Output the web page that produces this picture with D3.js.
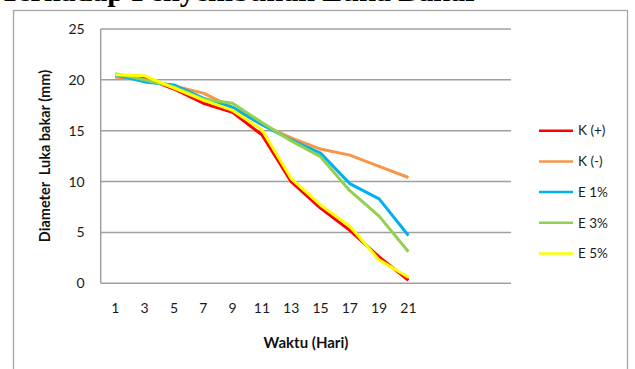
<!DOCTYPE html>
<html>
<head>
<meta charset="utf-8">
<script src="https://cdn.jsdelivr.net/npm/d3@7"></script>
<style>
  html, body { margin: 0; padding: 0; background: #fff; }
  svg { display: block; }
</style>
</head>
<body>
<svg id="chart" width="635" height="369"></svg>
<script>
// ---- data ----
const days = ["1", "3", "5", "7", "9", "11", "13", "15", "17", "19", "21"];
const slotCount = 14; // category slots on the axis (last three unlabeled)
const seriesNames = ["K (+)", "K (-)", "E 1%", "E 3%", "E 5%"];
const kPlus  = [20.3, 20.2, 19.1, 17.7, 16.8, 14.6, 10.0, 7.4, 5.2, 2.6, 0.3];
const kMinus = [20.3, 20.0, 19.4, 18.7, 17.3, 15.6, 14.3, 13.2, 12.6, 11.5, 10.4];
const e1     = [20.5, 19.8, 19.5, 18.2, 17.3, 15.6, 14.1, 12.8, 9.8, 8.3, 4.7];
const e3     = [20.6, 20.0, 19.3, 18.1, 17.7, 15.8, 14.0, 12.45, 9.1, 6.6, 3.1];
const e5     = [20.5, 20.4, 19.2, 18.0, 17.0, 15.1, 10.3, 7.7, 5.6, 2.3, 0.6];
const yTicks = [0, 5, 10, 15, 20, 25];
const colors = ["#FF0000", "#F79646", "#00B0F0", "#92D050", "#FFFF00"];
const allSeries = [kPlus, kMinus, e1, e3, e5];

// ---- layout ----
const svg = d3.select("#chart");
const plot = { left: 100.7, right: 511, top: 29, bottom: 283.3 };
const font = "Lato, 'Open Sans', sans-serif";

// heading, cut off at the top edge as in the source image
svg.append("text")
  .attr("x", 0).attr("y", 0.5)
  .attr("font-family", "'Liberation Serif', 'Times New Roman', serif")
  .attr("font-weight", "bold")
  .attr("font-size", 30)
  .attr("fill", "#000")
  .text("Terhadap Penyembuhan Luka Bakar");

// outer frame
svg.append("rect")
  .attr("x", 13.5).attr("y", 10.5)
  .attr("width", 614).attr("height", 420)
  .attr("fill", "#fff")
  .attr("stroke", "#A6A6A6").attr("stroke-width", 1.3);

const x = d3.scaleBand().domain(d3.range(slotCount)).range([plot.left, plot.right]).padding(0);
const y = d3.scaleLinear().domain([0, 25]).range([plot.bottom, plot.top]);

// gridlines
svg.append("g").selectAll("line").data(yTicks).join("line")
  .attr("x1", plot.left).attr("x2", plot.right)
  .attr("y1", d => y(d)).attr("y2", d => y(d))
  .attr("stroke", "#A0A0A0").attr("stroke-width", 1.5);

// left axis line
svg.append("line")
  .attr("x1", plot.left).attr("x2", plot.left)
  .attr("y1", plot.top).attr("y2", plot.bottom)
  .attr("stroke", "#A0A0A0").attr("stroke-width", 1.5);

// y tick labels
const yAxis = d3.axisLeft(y).tickValues(yTicks).tickSize(0).tickPadding(16);
const yg = svg.append("g").attr("transform", `translate(${plot.left},0)`).call(yAxis);
yg.select(".domain").remove();
yg.selectAll("text").attr("font-family", font).attr("font-size", 14).attr("fill", "#1a1a1a");

// x tick labels
const xAxis = d3.axisBottom(x).tickSize(0).tickPadding(20)
  .tickFormat(i => i < days.length ? days[i] : "");
const xg = svg.append("g").attr("transform", `translate(0,${plot.bottom})`).call(xAxis);
xg.select(".domain").remove();
xg.selectAll("text").attr("font-family", font).attr("font-size", 14).attr("fill", "#1a1a1a");

// axis titles
svg.append("text")
  .attr("x", 306).attr("y", 348)
  .attr("text-anchor", "middle")
  .attr("font-family", font).attr("font-weight", "bold").attr("font-size", 15)
  .attr("fill", "#111")
  .text("Waktu (Hari)");

svg.append("text")
  .attr("transform", "translate(50,156) rotate(-90)")
  .attr("text-anchor", "middle")
  .style("white-space", "pre")
  .attr("font-family", font).attr("font-weight", "bold").attr("font-size", 14.5)
  .attr("fill", "#111")
  .text("Diameter  Luka bakar (mm)");

// series lines
const line = d3.line()
  .x((d, i) => x(i) + x.bandwidth() / 2)
  .y(d => y(d));

svg.append("g").selectAll("path").data(allSeries).join("path")
  .attr("d", d => line(d))
  .attr("fill", "none")
  .attr("stroke", (d, i) => colors[i])
  .attr("stroke-width", 3)
  .attr("stroke-linejoin", "round");

// legend
const legend = svg.append("g");
seriesNames.forEach((name, i) => {
  const ly = 130.7 + i * 30.7;
  legend.append("line")
    .attr("x1", 539).attr("x2", 573)
    .attr("y1", ly).attr("y2", ly)
    .attr("stroke", colors[i]).attr("stroke-width", 2.5);
  legend.append("text")
    .attr("x", 578).attr("y", ly).attr("dy", "0.35em")
    .attr("font-family", font).attr("font-size", 13.5).attr("fill", "#1a1a1a")
    .text(name);
});
</script>
</body>
</html>
